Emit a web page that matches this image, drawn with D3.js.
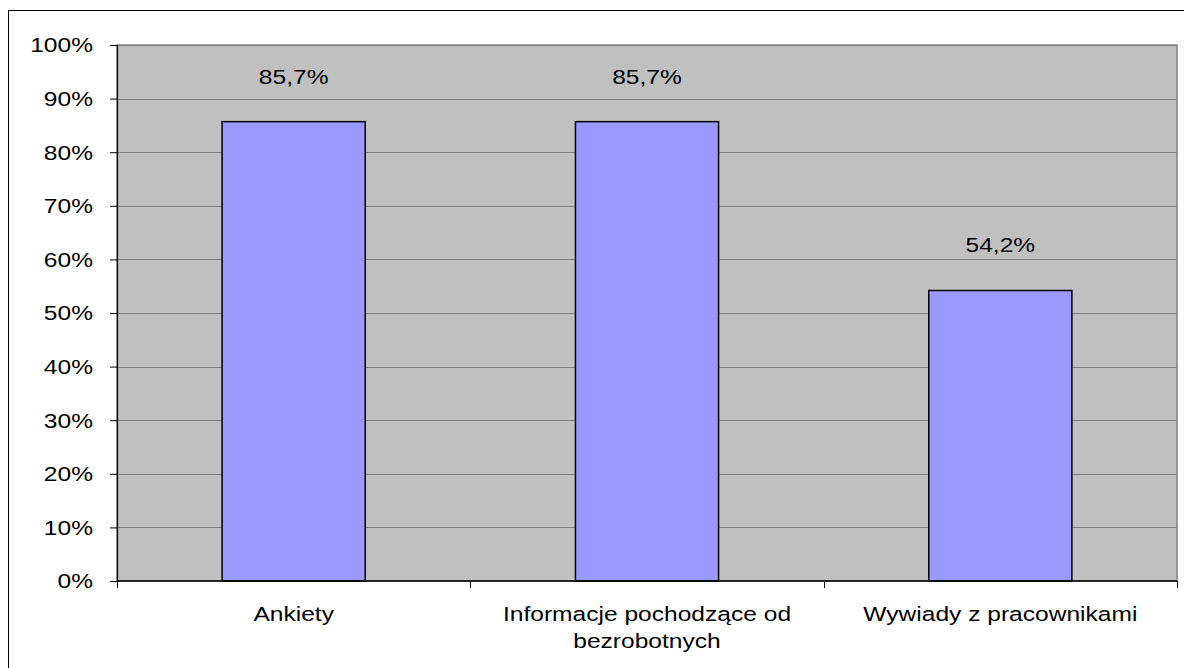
<!DOCTYPE html>
<html>
<head>
<meta charset="utf-8">
<script src="https://cdn.jsdelivr.net/npm/d3@7"></script>
<style>
  body { margin: 0; background: #fff; }
  svg { display: block; }
  text { font-family: Arial, "Liberation Sans", sans-serif; fill: #000; }
</style>
</head>
<body>
<svg id="canvas"></svg>
<script>
// Bar chart - share of sources
let categories = ['Ankiety', 'Informacje pochodzące od\nbezrobotnych', 'Wywiady z pracownikami'];
let values = [0.857, 0.857, 0.542];
let valueLabels = ['85,7%', '85,7%', '54,2%'];
let yTicks = [0, 0.1, 0.2, 0.3, 0.4, 0.5, 0.6, 0.7, 0.8, 0.9, 1];

let width = 1184;
let height = 668;

// plot area
let plotLeft = 117, plotRight = 1177, plotTop = 45, plotBottom = 581;

// the original text is a bit wider than normal Arial
let fontSize = 19.5;
let stretch = 1.26;

const canvas = d3.select('#canvas')
    .attr('width', width)
    .attr('height', height);

// outer chart border (right/bottom edges fall outside the picture)
canvas.append('rect')
    .attr('x', 8.5).attr('y', 10.5)
    .attr('width', 1200).attr('height', 700)
    .attr('fill', 'none')
    .attr('stroke', '#000')
    .attr('stroke-width', 1);

const x = d3.scaleBand()
    .domain(categories)
    .range([plotLeft, plotRight])
    .paddingInner(0)
    .paddingOuter(0);

const y = d3.scaleLinear()
    .domain([0, 1])
    .range([plotBottom, plotTop]);

const barW = x.bandwidth() * 0.405;

// plot background
canvas.append('rect')
    .attr('x', plotLeft).attr('y', plotTop)
    .attr('width', plotRight - plotLeft).attr('height', plotBottom - plotTop)
    .attr('fill', '#c0c0c0')
    .attr('stroke', '#808080')
    .attr('stroke-width', 1.5);

// gridlines
canvas.append('g')
    .selectAll('line')
    .data(yTicks.filter((d) => d > 0))
    .enter()
    .append('line')
    .attr('x1', plotLeft).attr('x2', plotRight)
    .attr('y1', (d) => Math.round(y(d)) + 0.5)
    .attr('y2', (d) => Math.round(y(d)) + 0.5)
    .attr('stroke', '#808080')
    .attr('stroke-width', 1);

// bars
canvas.append('g')
    .selectAll('rect')
    .data(values)
    .enter()
    .append('rect')
    .attr('x', (d, i) => x(categories[i]) + (x.bandwidth() - barW) / 2)
    .attr('y', (d) => y(d))
    .attr('width', barW)
    .attr('height', (d) => plotBottom - y(d))
    .attr('fill', '#9999ff')
    .attr('stroke', '#000')
    .attr('stroke-width', 1.5);

// y axis
const yAxis = d3.axisLeft(y)
    .tickValues(yTicks)
    .tickSize(7)
    .tickPadding(17)
    .tickFormat(d3.format('.0%'));

const gy = canvas.append('g')
    .attr('transform', `translate(${plotLeft},0)`)
    .call(yAxis);
gy.select('.domain').attr('stroke', '#000').attr('stroke-width', 1.2);
gy.selectAll('.tick line').attr('stroke', '#000');
gy.selectAll('.tick text').each(function () {
    let t = d3.select(this);
    let tx = +t.attr('x');
    t.attr('x', null)
        .attr('font-size', fontSize)
        .attr('dy', '0.35em')
        .attr('transform', `translate(${tx},0) scale(${stretch},1)`);
});

// x axis line and ticks at category boundaries
canvas.append('line')
    .attr('x1', plotLeft).attr('x2', plotRight)
    .attr('y1', plotBottom).attr('y2', plotBottom)
    .attr('stroke', '#000')
    .attr('stroke-width', 1.5);

let bounds = categories.map((c) => x(c)).concat([plotRight]);
canvas.append('g')
    .selectAll('line')
    .data(bounds)
    .enter()
    .append('line')
    .attr('x1', (d) => Math.round(d) + 0.5)
    .attr('x2', (d) => Math.round(d) + 0.5)
    .attr('y1', plotBottom).attr('y2', plotBottom + 7)
    .attr('stroke', '#000');

// category labels
const cat = canvas.append('g')
    .selectAll('g')
    .data(categories)
    .enter()
    .append('g')
    .attr('transform', (d) => `translate(${x(d) + x.bandwidth() / 2},621) scale(${stretch},1)`);

cat.append('text')
    .attr('text-anchor', 'middle')
    .attr('font-size', fontSize)
    .selectAll('tspan')
    .data((d) => d.split('\n'))
    .enter()
    .append('tspan')
    .attr('x', 0)
    .attr('y', (d, i) => i * 27)
    .text((d) => d);

// value labels above bars
canvas.append('g')
    .selectAll('text')
    .data(values)
    .enter()
    .append('text')
    .attr('text-anchor', 'middle')
    .attr('font-size', fontSize)
    .attr('transform', (d, i) => `translate(${x(categories[i]) + x.bandwidth() / 2},${y(d) - 38}) scale(${stretch},1)`)
    .text((d, i) => valueLabels[i]);
</script>
</body>
</html>
